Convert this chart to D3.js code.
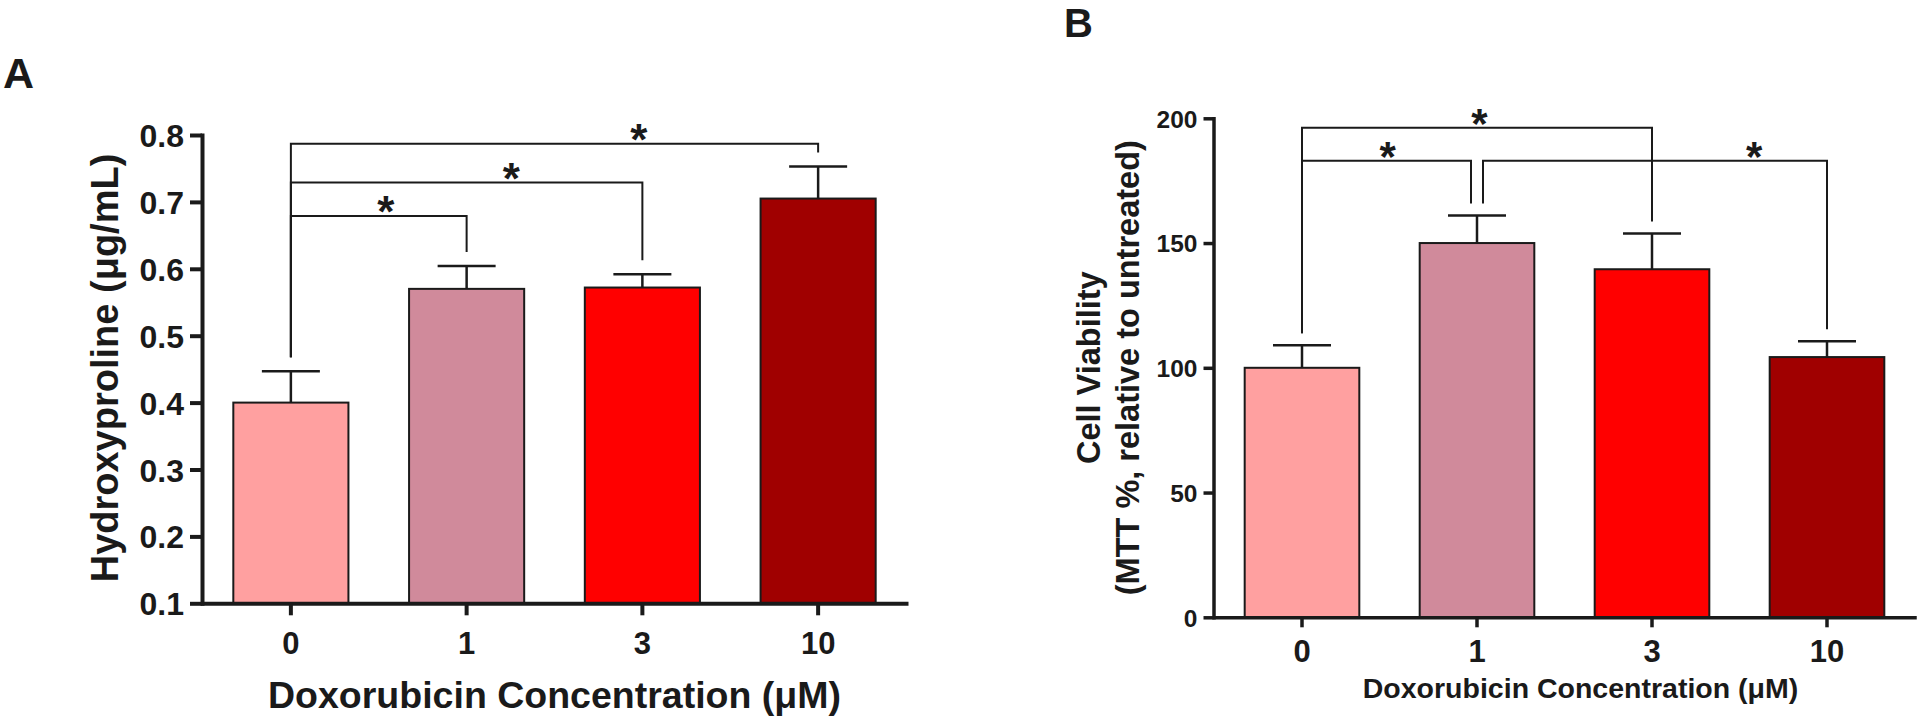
<!DOCTYPE html>
<html>
<head>
<meta charset="utf-8">
<script src="https://cdn.jsdelivr.net/npm/d3@7"></script>
<style>
  html, body { margin: 0; padding: 0; background: #ffffff; }
  svg { display: block; }
  text { font-family: "Liberation Sans", Arial, Helvetica, sans-serif; font-weight: bold; fill: #1a1a1a; }
</style>
</head>
<body>
<svg id="chart" width="1920" height="722"></svg>
<script>
// ---------------- data ----------------
const categories = ["0", "1", "3", "10"];
const barColors = ["#FFA0A0", "#D08A9B", "#FF0000", "#A00000"];

// Panel A: hydroxyproline (µg/mL), mean and upper SEM
const hypMean = [0.400, 0.570, 0.572, 0.705];
const hypSem  = [0.047, 0.034, 0.020, 0.048];
const hypTicks = [0.1, 0.2, 0.3, 0.4, 0.5, 0.6, 0.7, 0.8];
// significance brackets: from/to category index, level (data units), star position along bracket
const hypBrackets = [
  { from: 0, to: 1, level: 0.679, starFrac: 0.54 },
  { from: 0, to: 2, level: 0.729, starFrac: 0.627 },
  { from: 0, to: 3, level: 0.787, starFrac: 0.66 }
];

// Panel B: cell viability (MTT %, relative to untreated)
const viaMean = [100, 150, 139.5, 104.3];
const viaSem  = [9, 11, 14.3, 6.3];
const viaTicks = [0, 50, 100, 150, 200];
const viaBrackets = [
  { from: 0, to: 2, level: 196.2, starFrac: 0.507 },
  { from: 0, to: 1, level: 183, starFrac: 0.507 },
  { from: 1, to: 3, level: 183, starFrac: 0.788 }
];

const xTitle = "Doxorubicin Concentration (\u03BCM)";
const yTitleA = "Hydroxyproline (\u03BCg/mL)";
const yTitleB = ["Cell Viability", "(MTT %, relative to untreated)"];

// ---------------- drawing ----------------
const svg = d3.select("#chart");
const ink = "#1a1a1a";

function panel(opt) {
  const g = svg.append("g");
  const x = d3.scaleBand().domain(categories).range(opt.xRange)
    .paddingInner(0.345).paddingOuter(0.1725);
  const y = d3.scaleLinear().domain(opt.yDomain).range(opt.yRange);
  const base = opt.yDomain[0];

  // bars
  g.selectAll("rect.bar").data(opt.mean).join("rect")
    .attr("class", "bar")
    .attr("x", (d, i) => x(categories[i]))
    .attr("width", x.bandwidth())
    .attr("y", d => y(d))
    .attr("height", d => y(base) - y(d))
    .attr("fill", (d, i) => barColors[i])
    .attr("stroke", ink)
    .attr("stroke-width", 2);

  // error bars (upper only)
  const cx = i => x(categories[i]) + x.bandwidth() / 2;
  const eg = g.append("g").attr("stroke", ink).attr("stroke-width", 2.5).attr("fill", "none");
  opt.mean.forEach((m, i) => {
    const top = y(m + opt.sem[i]);
    eg.append("line").attr("x1", cx(i)).attr("x2", cx(i)).attr("y1", y(m)).attr("y2", top);
    eg.append("line").attr("x1", cx(i) - 29).attr("x2", cx(i) + 29).attr("y1", top).attr("y2", top);
  });

  // axes
  const yAxis = d3.axisLeft(y).tickValues(opt.yTicks).tickSize(opt.tickLen).tickSizeOuter(0)
    .tickPadding(6).tickFormat(opt.yFormat);
  const ya = g.append("g").attr("transform", `translate(${opt.xRange[0] - 1},0)`).call(yAxis);
  const xAxis = d3.axisBottom(x).tickSize(opt.tickLen).tickSizeOuter(0).tickPadding(opt.xPad);
  const xa = g.append("g").attr("transform", `translate(0,${y(base)})`).call(xAxis);
  [ya, xa].forEach(a => {
    a.select(".domain").attr("stroke", ink).attr("stroke-width", opt.axisW).attr("stroke-linecap", "square");
    a.selectAll(".tick line").attr("stroke", ink).attr("stroke-width", opt.axisW);
    a.selectAll("text").attr("fill", ink).attr("font-family", null).attr("font-weight", "bold");
  });
  ya.selectAll("text").attr("font-size", opt.yTickFs).attr("dy", "0.36em");
  xa.selectAll("text").attr("font-size", opt.xTickFs);

  // significance brackets
  const bg = g.append("g").attr("stroke", ink).attr("stroke-width", 2).attr("fill", "none");
  const legEnd = i => y(opt.mean[i] + opt.sem[i]) - opt.gap;
  opt.brackets.forEach(b => {
    let xl = cx(b.from), xr = cx(b.to);
    // nudge ends that share a bar with another bracket at the same level
    if (opt.brackets.some(o => o !== b && o.level === b.level && o.from === b.to)) xr -= 6;
    if (opt.brackets.some(o => o !== b && o.level === b.level && o.to === b.from)) xl += 6;
    const yl = y(b.level);
    bg.append("path").attr("d", `M${xl},${legEnd(b.from)}V${yl}H${xr}V${legEnd(b.to)}`);
    g.append("text")
      .attr("x", xl + (xr - xl) * b.starFrac)
      .attr("y", yl - 14 + 0.57 * opt.starFs)
      .attr("text-anchor", "middle")
      .attr("font-size", opt.starFs)
      .text("*");
  });

  // x axis title
  g.append("text")
    .attr("x", opt.xTitlePos[0]).attr("y", opt.xTitlePos[1])
    .attr("text-anchor", "middle").attr("font-size", opt.xTitleFs)
    .text(xTitle);

  return { x, y, g };
}

// Panel A
const pA = panel({
  xRange: [203, 906], yDomain: [0.1, 0.8], yRange: [603.3, 135],
  mean: hypMean, sem: hypSem, yTicks: hypTicks, yFormat: d3.format(".1f"),
  tickLen: 12, axisW: 4, yTickFs: 32, xTickFs: 31, xPad: 17,
  brackets: hypBrackets, gap: 14, starFs: 44,
  xTitlePos: [554.5, 708], xTitleFs: 37.5
});
pA.g.append("text")
  .attr("transform", `translate(118,368) rotate(-90)`)
  .attr("text-anchor", "middle").attr("font-size", 38)
  .text(yTitleA);
svg.append("text").attr("x", 3).attr("y", 88).attr("font-size", 43).text("A");

// Panel B
const pB = panel({
  xRange: [1214.5, 1914.5], yDomain: [0, 200], yRange: [617.3, 118.3],
  mean: viaMean, sem: viaSem, yTicks: viaTicks, yFormat: d3.format("d"),
  tickLen: 10, axisW: 3.5, yTickFs: 24.5, xTickFs: 31, xPad: 13,
  brackets: viaBrackets, gap: 12, starFs: 42,
  xTitlePos: [1580.5, 698], xTitleFs: 28.5
});
pB.g.append("text")
  .attr("transform", `translate(1100,367.7) rotate(-90)`)
  .attr("text-anchor", "middle").attr("font-size", 32.5)
  .text(yTitleB[0]);
pB.g.append("text")
  .attr("transform", `translate(1139,367.7) rotate(-90)`)
  .attr("text-anchor", "middle").attr("font-size", 32.5)
  .text(yTitleB[1]);
svg.append("text").attr("x", 1064).attr("y", 37).attr("font-size", 40).text("B");
</script>
</body>
</html>
